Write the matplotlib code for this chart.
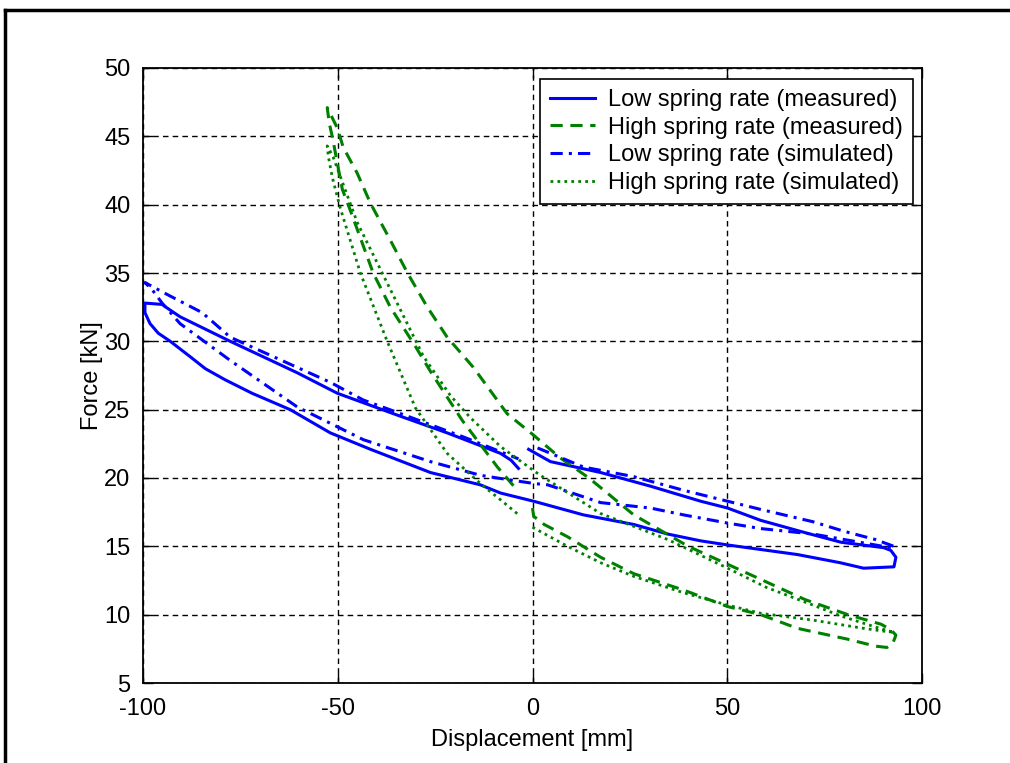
import matplotlib
matplotlib.use("Agg")
import matplotlib.pyplot as plt
from matplotlib.lines import Line2D
import numpy as np

# Low spring rate (measured) loop
low_meas_x = [-1.0, 4.6, 17.5, 30.3, 43.2, 50.1, 58.6, 70.0, 79.2, 90.2, 92.0, 93.3, 92.8, 85.0, 79.0, 68.0, 50.1, 43.2, 34.7, 26.0, 13.1, 0.3, -8.2, -13.4, -26.2, -41.6, -51.9, -62.2, -72.0, -79.0, -84.0, -88.0, -93.0, -96.1, -98.2, -99.5, -99.5, -95.1, -93.6, -90.5, -77.6, -60.4, -50.1, -34.7, -21.9, -8.2, -5.5, -3.6]
low_meas_y = [22.1, 21.2, 20.4, 19.4, 18.3, 17.8, 16.9, 16.0, 15.3, 14.9, 14.7, 14.2, 13.5, 13.4, 13.8, 14.4, 15.1, 15.4, 15.9, 16.6, 17.3, 18.3, 18.9, 19.5, 20.4, 22.1, 23.3, 25.0, 26.2, 27.2, 28.0, 28.9, 30.0, 30.6, 31.3, 32.1, 32.8, 32.7, 32.4, 31.8, 30.0, 27.7, 26.2, 24.6, 23.3, 21.8, 21.3, 20.7]

# High spring rate (measured) loop
high_meas_x = [0.0, 0.3, 3.0, 9.0, 17.5, 26.0, 38.8, 50.0, 58.6, 68.0, 81.0, 88.0, 91.0, 92.5, 93.3, 92.0, 89.5, 81.0, 70.0, 60.0, 50.0, 40.0, 26.0, 14.5, 7.0, 0.0, -6.5, -15.2, -21.9, -27.0, -32.1, -36.5, -41.6, -45.0, -48.6, -50.1, -52.0, -52.7, -52.2, -51.2, -50.1, -48.8, -46.8, -40.9, -36.5, -30.0, -26.2, -18.0, -9.0, -3.9]
high_meas_y = [17.8, 17.2, 16.6, 15.7, 14.2, 13.0, 11.8, 10.6, 10.0, 9.0, 8.2, 7.7, 7.6, 7.9, 8.5, 8.9, 9.3, 10.0, 11.1, 12.4, 13.7, 15.0, 17.3, 20.0, 21.5, 23.2, 24.7, 28.1, 30.3, 32.5, 35.0, 37.4, 40.1, 42.3, 44.2, 45.6, 46.7, 47.1, 46.0, 44.7, 43.0, 41.1, 39.6, 35.0, 32.5, 29.6, 27.8, 24.2, 20.8, 19.1]

# Low spring rate (simulated) loop
low_sim_x = [1.3, 13.1, 26.0, 38.8, 50.1, 58.6, 72.0, 80.0, 88.0, 92.8, 93.0, 90.0, 80.0, 72.0, 58.6, 50.1, 38.8, 30.3, 17.5, 3.9, 0.3, -9.0, -13.4, -26.2, -43.4, -60.4, -77.6, -90.5, -95.1, -97.7, -99.5, -93.6, -84.8, -77.6, -51.9, -43.4, -34.7, -17.7, -3.6]
low_sim_y = [22.2, 20.8, 20.1, 19.1, 18.3, 17.7, 16.8, 16.1, 15.5, 15.0, 14.9, 15.0, 15.5, 15.9, 16.3, 16.7, 17.3, 17.8, 18.2, 19.5, 19.6, 20.0, 20.2, 21.2, 22.8, 25.2, 28.6, 31.3, 32.8, 33.8, 34.3, 33.4, 32.1, 30.3, 27.0, 25.7, 24.8, 23.0, 21.4]

# High spring rate (simulated) loop
high_sim_x = [0.0, 9.0, 17.5, 26.0, 38.8, 50.1, 58.6, 72.0, 85.0, 90.0, 92.8, 88.0, 79.2, 72.0, 60.0, 50.1, 34.7, 17.5, 2.0, 0.0, -8.2, -15.9, -21.0, -28.0, -36.5, -45.0, -51.2, -52.7, -52.4, -51.4, -49.4, -44.2, -37.3, -30.0, -21.9, -13.4, -8.2, -3.1]
high_sim_y = [16.4, 15.0, 13.8, 12.8, 11.6, 10.7, 10.1, 9.6, 9.0, 8.8, 8.7, 9.1, 9.9, 10.7, 12.0, 13.4, 15.5, 17.4, 20.2, 20.6, 22.3, 24.4, 26.0, 28.9, 33.8, 38.7, 43.5, 44.3, 43.5, 42.0, 39.8, 35.0, 30.0, 25.1, 21.8, 19.6, 18.4, 17.2]

labels = ["Low spring rate (measured)", "High spring rate (measured)",
          "Low spring rate (simulated)", "High spring rate (simulated)"]
x_ticks = [-100, -50, 0, 50, 100]
y_ticks = [5, 10, 15, 20, 25, 30, 35, 40, 45, 50]

plt.rcParams['font.family'] = ['Liberation Sans', 'DejaVu Sans']
plt.rcParams['font.size'] = 17

fig = plt.figure(figsize=(10.1, 7.63), dpi=100)
ax = fig.add_axes([143/1010, 80/763, 779/1010, 615/763])

blue = (0, 0, 1)
green = (0, 0.5, 0)
ax.plot(low_meas_x, low_meas_y, color=blue, lw=2.2, ls='-', label=labels[0])
ax.plot(high_meas_x, high_meas_y, color=green, lw=2.2, ls=(0, (4, 2.5)), label=labels[1])
ax.plot(low_sim_x, low_sim_y, color=blue, lw=2.2, ls=(0, (4, 2, 1, 2)), label=labels[2])
ax.plot(high_sim_x, high_sim_y, color=green, lw=2.0, ls=(0, (1, 1.5)), label=labels[3])

ax.set_xlim(-100, 100)
ax.set_ylim(5, 50)
ax.set_xticks(x_ticks)
ax.set_yticks(y_ticks)
ax.set_xticklabels([str(v) for v in x_ticks])
ax.set_yticklabels([str(v) for v in y_ticks])
ax.grid(True, color='black', ls=(0, (4, 3)), lw=1.0)
ax.tick_params(direction='in', top=True, right=True, length=7, width=1, labelsize=17)
ax.tick_params(axis='x', pad=11)
ax.tick_params(axis='y', pad=9)
for s in ax.spines.values():
    s.set_linewidth(1.3)
ax.set_xlabel("Displacement [mm]", fontsize=17, labelpad=6)
ax.set_ylabel("Force [kN]", fontsize=17, labelpad=1)

leg = ax.legend(loc='upper right', bbox_to_anchor=(0.988, 0.982), borderaxespad=0,
                fancybox=False, framealpha=1, edgecolor='black', fontsize=17,
                handlelength=1.9, labelspacing=0.24, borderpad=0.42, handletextpad=0.55)
leg.get_frame().set_linewidth(1.2)

# figure border (top and left)
fig.add_artist(Line2D([5/1010, 1.0], [1 - 10/763, 1 - 10/763], color='black', lw=2.5, transform=fig.transFigure))
fig.add_artist(Line2D([5/1010, 5/1010], [0, 1 - 10/763], color='black', lw=2.5, transform=fig.transFigure))

fig.savefig("out.png", dpi=100)
